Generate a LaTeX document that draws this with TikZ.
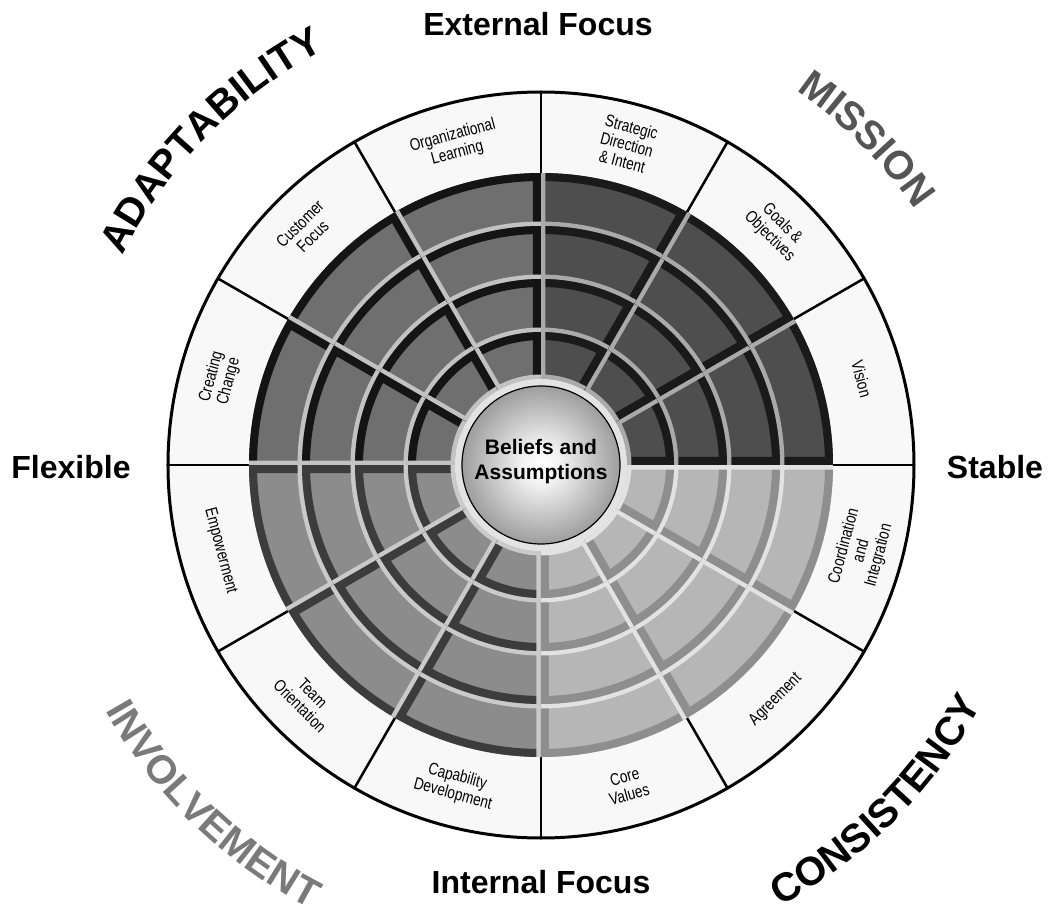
\documentclass[tikz,border=0pt]{standalone}
\usepackage{fontspec}
\setmainfont{Liberation Sans}
\newfontfamily\narrowfont[FakeStretch=0.8]{Liberation Sans}
\usetikzlibrary{decorations.text}

\newcommand\bigword{\fontsize{40}{48}\selectfont\bfseries}

\definecolor{ringF}{HTML}{F8F8F8}
\definecolor{missionF}{HTML}{4E4E4E}
\definecolor{missionD}{HTML}{1A1A1A}
\definecolor{missionL}{HTML}{AAAAAA}
\definecolor{adaptF}{HTML}{6F6F6F}
\definecolor{adaptD}{HTML}{141414}
\definecolor{adaptL}{HTML}{C2C2C2}
\definecolor{involveF}{HTML}{8C8C8C}
\definecolor{involveD}{HTML}{3C3C3C}
\definecolor{involveL}{HTML}{CACACA}
\definecolor{consistF}{HTML}{B6B6B6}
\definecolor{consistD}{HTML}{8E8E8E}
\definecolor{consistL}{HTML}{E2E2E2}
\definecolor{missionT}{HTML}{555555}
\definecolor{involveT}{HTML}{7A7A7A}

\pgfdeclareradialshading{sphere}{\pgfpoint{0bp}{0bp}}{color(0bp)=(white); color(6bp)=(white!95!black);
    color(26bp)=(white!60!black); color(45bp)=(white!28!black); color(50bp)=(white!22!black)}

\begin{document}
\begin{tikzpicture}[
        x=1pt, y=1pt,
        side/.style={font=\fontsize{32}{38}\selectfont\bfseries, inner sep=0pt}, % axis captions
        kant/.style={font=\narrowfont\fontsize{17}{18}\selectfont, align=center, inner sep=0pt}, % ring labels
        core/.style={font=\fontsize{21}{25}\selectfont\bfseries, align=center, inner sep=0pt},
        divider/.style={draw=black, line width=2.5},
        word/.style={decorate, decoration={text along path, text align=center}}, % curved trait names
    ]
    \useasboundingbox (-541,-448) rectangle (517,465);

    % outer ring with the twelve labels
    \fill[ringF] (0,0) circle[radius=373];
    \foreach \a in {0,30,...,330}
        \draw[divider] (\a:292) -- (\a:373);
    \draw[line width=3] (0,0) circle[radius=373];

    % four quadrants, three sectors, four bands
    \foreach \qa/\cf/\cd/\cl in {0/missionF/missionD/missionL, 90/adaptF/adaptD/adaptL,
                                 180/involveF/involveD/involveL, 270/consistF/consistD/consistL}
        \foreach \s in {0,1,2}
            \foreach \ro/\ri in {292/239, 239/186, 186/133, 133/86} {
                \pgfmathsetmacro\aa{\qa+30*\s}
                \pgfmathsetmacro\ab{\qa+30*\s+30}
                \begin{scope}
                    \clip (\aa:\ri) -- (\aa:\ro) arc[start angle=\aa, end angle=\ab, radius=\ro]
                        -- (\ab:\ri) arc[start angle=\ab, end angle=\aa, radius=\ri] -- cycle;
                    \fill[fill=\cf] (0,0) circle[radius=300];
                    \draw[draw=\cd, line width=16] (\aa:\ri) -- (\aa:\ro) arc[start angle=\aa, end angle=\ab, radius=\ro];
                    \draw[draw=\cl, line width=9] (\ab:\ro) -- (\ab:\ri) arc[start angle=\ab, end angle=\aa, radius=\ri];
                \end{scope}
            }

    % centre
    \fill[gray!22] (0,0) circle[radius=86];
    \shadedraw[shading=sphere, draw=black, line width=1.2] (0,0) circle[radius=79];
    \node[core] (core) at (0,3) {Beliefs and\\Assumptions};

    \foreach \a/\txt in {15/Vision, 45/{Goals \&\\Objectives}, 75/{Strategic\\Direction\\\& Intent},
                         105/{Organizational\\Learning}, 135/{Customer\\Focus}, 165/{Creating\\Change}}
        \node[kant, rotate=\a-90] (lbl\a) at (\a:332) {\txt};
    \foreach \a/\txt in {195/Empowerment, 225/{Team\\Orientation}, 255/{Capability\\Development},
                         285/{Core\\Values}, 315/Agreement, 345/{Coordination\\and\\Integration}}
        \node[kant, rotate=\a+90] (lbl\a) at (\a:332) {\txt};

    \node[side] (external) at (-3,441) {External Focus};
    \node[side] (internal) at (0,-417) {Internal Focus};
    \node[side] (flexible) at (-470,-2) {Flexible};
    \node[side] (stable) at (454,-2) {Stable};

    \path[word, decoration={text={|\bigword|ADAPTABILITY}, text color=black}]
        (165:468) arc[start angle=165, end angle=106, radius=468];
    \path[word, decoration={text={|\bigword|MISSION}, text color=missionT}]
        (75:453) arc[start angle=75, end angle=15, radius=453];
    \path[word, decoration={text={|\bigword|INVOLVEMENT}, text color=involveT}]
        (196:500) arc[start angle=196, end angle=256, radius=500];
    \path[word, decoration={text={|\bigword|CONSISTENCY}, text color=black}]
        (285:502) arc[start angle=285, end angle=345, radius=502];
\end{tikzpicture}
\end{document}
